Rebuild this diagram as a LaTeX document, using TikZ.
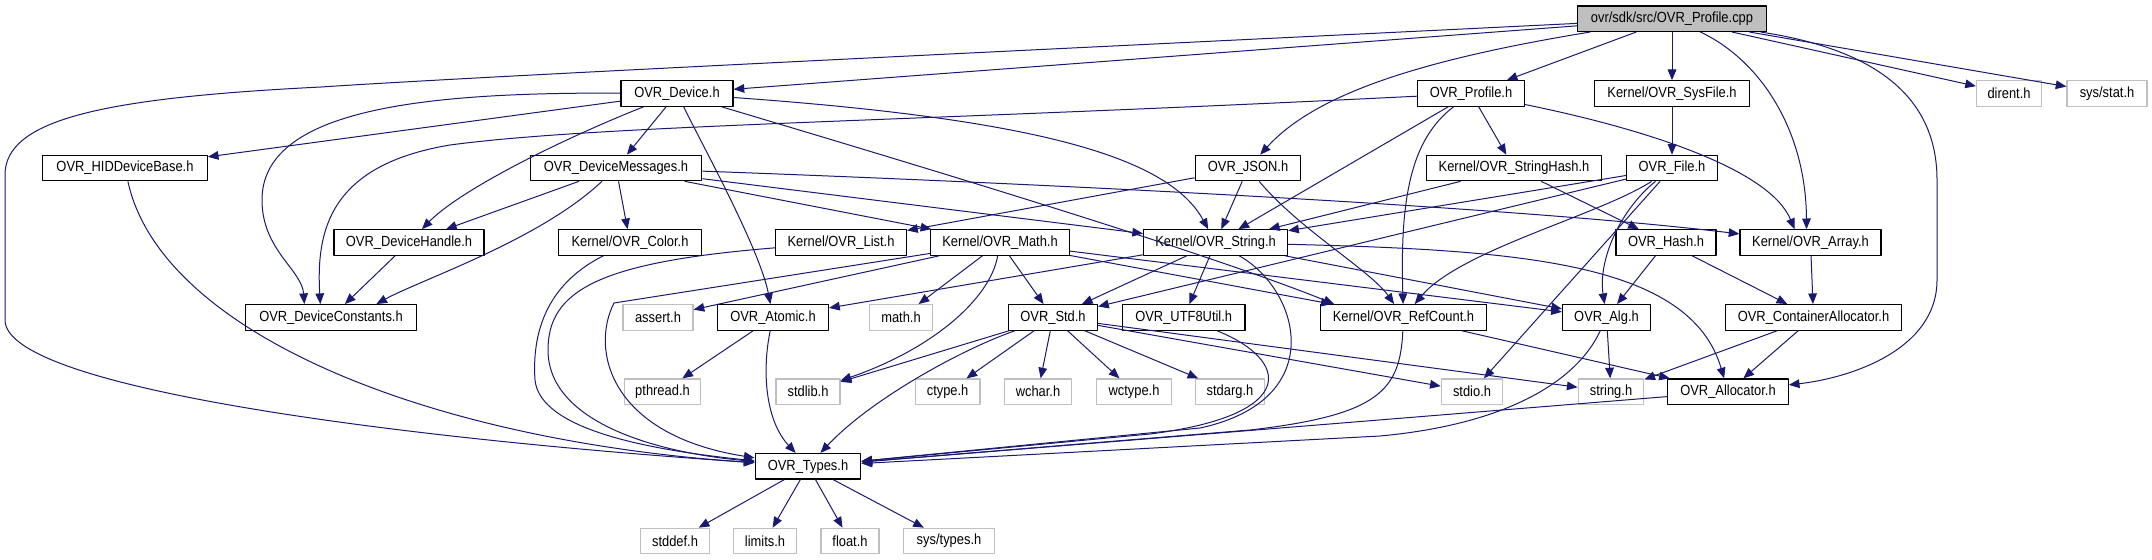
\documentclass[tikz,border=0pt]{standalone}
\usepackage{fontspec}
\setmainfont{Liberation Sans}[FakeStretch=0.88]
\usetikzlibrary{arrows.meta}

\definecolor{edgeblue}{HTML}{191970}
\definecolor{sysgray}{HTML}{BFBFBF}

\begin{document}
\begin{tikzpicture}[
        x=0.75pt,
        y=-0.75pt,
        line join=round,
        hdr/.style={draw=black, line width=0.9pt, fill=white,
            inner xsep=2pt, inner ysep=0pt, minimum height=19.1pt,
            font=\fontsize{11}{13}\selectfont},
        syshdr/.style={hdr, draw=sysgray},
        rootfile/.style={hdr, fill=sysgray},
        boxw/.style={minimum width=#1*0.75pt},
        inc/.style={draw=edgeblue, line width=0.75pt,
            -{Triangle[length=8pt,width=6.5pt]}}
    ]
        \useasboundingbox (0,0) rectangle (2152,560);

        % 根文件
        \node[rootfile, boxw=189] (cpp) at (1672,18.7) {ovr/sdk/src/OVR\_Profile.cpp};

        % 第一层
        \node[hdr, boxw=112]    (dev)     at (677,93.5)  {OVR\_Device.h};
        \node[hdr, boxw=107]    (prof)    at (1471,93.5) {OVR\_Profile.h};
        \node[hdr, boxw=154.5]  (sysfile) at (1672,93.5) {Kernel/OVR\_SysFile.h};
        \node[syshdr, boxw=65]  (dirent)  at (2009,93.5) {dirent.h};
        \node[syshdr, boxw=80]  (stat)    at (2107,93.5) {sys/stat.h};

        % 第二层
        \node[hdr, boxw=164.5] (hid)     at (125,168)  {OVR\_HIDDeviceBase.h};
        \node[hdr, boxw=171.5] (msgs)    at (616,168)  {OVR\_DeviceMessages.h};
        \node[hdr, boxw=105.5] (json)    at (1248,168) {OVR\_JSON.h};
        \node[hdr, boxw=174.5] (strhash) at (1514,168) {Kernel/OVR\_StringHash.h};
        \node[hdr, boxw=90.6]  (file)    at (1672,168) {OVR\_File.h};

        % 第三层
        \node[hdr, boxw=150]   (handle) at (409,242.5)    {OVR\_DeviceHandle.h};
        \node[hdr, boxw=142.5] (color)  at (630,242.5)    {Kernel/OVR\_Color.h};
        \node[hdr, boxw=131]   (list)   at (841,242.5)    {Kernel/OVR\_List.h};
        \node[hdr, boxw=139]   (math)   at (1000,242.5)   {Kernel/OVR\_Math.h};
        \node[hdr, boxw=144]   (string) at (1215.6,242.5) {Kernel/OVR\_String.h};
        \node[hdr, boxw=100]   (hash)   at (1666,242.5)   {OVR\_Hash.h};
        \node[hdr, boxw=141]   (array)  at (1810.5,242.5) {Kernel/OVR\_Array.h};

        % 第四层
        \node[hdr, boxw=170.4]   (const)     at (331,317.4)    {OVR\_DeviceConstants.h};
        \node[syshdr, boxw=70]   (assert)    at (658,317.4)    {assert.h};
        \node[hdr, boxw=111]     (atomic)    at (773,317.4)    {OVR\_Atomic.h};
        \node[syshdr, boxw=62.4] (mathh)     at (901,317.4)    {math.h};
        \node[hdr, boxw=89]      (std)       at (1053,317.4)   {OVR\_Std.h};
        \node[hdr, boxw=122.6]   (utf8)      at (1183.7,317.4) {OVR\_UTF8Util.h};
        \node[hdr, boxw=166.5]   (refcount)  at (1403.5,317.4) {Kernel/OVR\_RefCount.h};
        \node[hdr, boxw=88]      (alg)       at (1606.5,317.4) {OVR\_Alg.h};
        \node[hdr, boxw=175.5]   (contalloc) at (1813.5,317.4) {OVR\_ContainerAllocator.h};

        % 第五层
        \node[syshdr, boxw=76]   (pthread) at (662.5,391.7) {pthread.h};
        \node[syshdr, boxw=64]   (stdlib)  at (808,391.7)   {stdlib.h};
        \node[syshdr, boxw=64.7] (ctype)   at (947.6,391.7) {ctype.h};
        \node[syshdr, boxw=67.5] (wchar)   at (1038,391.7)  {wchar.h};
        \node[syshdr, boxw=74.5] (wctype)  at (1134,391.7)  {wctype.h};
        \node[syshdr, boxw=69]   (stdarg)  at (1230,391.7)  {stdarg.h};
        \node[syshdr, boxw=61.4] (stdio)   at (1472,391.7)  {stdio.h};
        \node[syshdr, boxw=65.6] (stringh) at (1611,391.7)  {string.h};
        \node[hdr, boxw=120.4]   (alloc)   at (1728,391.7)  {OVR\_Allocator.h};

        % 第六、七层
        \node[hdr, boxw=105.7]   (types)    at (808,466.3) {OVR\_Types.h};
        \node[syshdr, boxw=69.4] (stddef)   at (675,541)   {stddef.h};
        \node[syshdr, boxw=63.4] (limits)   at (765,541)   {limits.h};
        \node[syshdr, boxw=58]   (float)    at (850,541)   {float.h};
        \node[syshdr, boxw=90.4] (systypes) at (949,541)   {sys/types.h};

        % OVR_Profile.cpp 的包含关系
        \draw[inc] (cpp) .. controls (1200,42) and (500,75) .. (321,87)
            .. controls (100,98) and (5,120) .. (5,175) -- (5,320)
            .. controls (5,390) and (420,440) .. (types);
        \draw[inc] (cpp) -- (dev);
        \draw[inc] (cpp) .. controls (1400,63) and (1310,100) .. (json);
        \draw[inc] (cpp) -- (prof);
        \draw[inc] (cpp) -- (sysfile);
        \draw[inc] (cpp) .. controls (1760,60) and (1806,130) .. ([xshift=-3pt]array.north);
        \draw[inc] (cpp) .. controls (1880,50) and (1937,100) .. (1937,180) -- (1937,280)
            .. controls (1937,350) and (1850,378) .. (alloc);
        \draw[inc] (cpp) -- (dirent);
        \draw[inc] (cpp) -- (stat);

        % OVR_Device.h
        \draw[inc] (dev) -- (hid);
        \draw[inc] (dev) .. controls (420,92) and (262,110) .. (262,200)
            .. controls (262,250) and (302,270) .. ([xshift=-20pt]const.north);
        \draw[inc] (dev) .. controls (560,140) and (460,190) .. (handle);
        \draw[inc] (dev) -- (msgs);
        \draw[inc] (dev) .. controls (705,150) and (760,250) .. (atomic);
        \draw[inc] (dev) .. controls (900,160) and (1200,250) .. ([xshift=-52pt]refcount.north);
        \draw[inc] (dev) .. controls (1050,120) and (1170,160) .. (string);

        % OVR_HIDDeviceBase.h
        \draw[inc] (hid) .. controls (160,330) and (420,440) .. (types);

        % OVR_DeviceMessages.h
        \draw[inc] (msgs) -- (handle);
        \draw[inc] (msgs) .. controls (540,240) and (420,280) .. ([xshift=34pt]const.north);
        \draw[inc] (msgs) -- (color);
        \draw[inc] (msgs) -- (math);
        \draw[inc] (msgs) -- (string);
        \draw[inc] (msgs) .. controls (1000,182) and (1500,205) .. (array);

        \draw[inc] (handle) -- (const);

        % OVR_Profile.h
        \draw[inc] (prof) .. controls (900,122) and (600,125) .. (450,145)
            .. controls (330,165) and (316,230) .. ([xshift=-8pt]const.north);
        \draw[inc] (prof) -- (string);
        \draw[inc] (prof) .. controls (1410,140) and (1400,200) .. (refcount);
        \draw[inc] (prof) -- (strhash);
        \draw[inc] (prof) .. controls (1650,130) and (1770,170) .. ([xshift=-12pt]array.north);

        % OVR_JSON.h
        \draw[inc] (json) -- (list);
        \draw[inc] (json) -- (string);
        \draw[inc] (json) .. controls (1300,230) and (1370,270) .. (refcount);

        % StringHash, SysFile, File
        \draw[inc] (strhash) -- (string);
        \draw[inc] (strhash) -- (hash);
        \draw[inc] (sysfile) -- (file);
        \draw[inc] (file) -- (string);
        \draw[inc] (file) -- (std);
        \draw[inc] (file) .. controls (1600,215) and (1460,250) .. (refcount);
        \draw[inc] (file) .. controls (1620,210) and (1598,260) .. (alg);
        \draw[inc] (file) -- (stdio);

        % Hash, Array
        \draw[inc] (hash) -- (alg);
        \draw[inc] (hash) -- (contalloc);
        \draw[inc] (array) -- (contalloc);

        % List, Color, Math
        \draw[inc] (list) .. controls (600,262) and (548,290) .. (548,350)
            .. controls (548,420) and (650,452) .. (types);
        \draw[inc] (color) .. controls (545,285) and (532,335) .. (535,380)
            .. controls (540,430) and (650,450) .. (types);
        \draw[inc] (math) -- (614,303) .. controls (590,350) and (610,435) .. (types);
        \draw[inc] (math) -- (assert);
        \draw[inc] (math) -- (mathh);
        \draw[inc] (math) -- (std);
        \draw[inc] (math) .. controls (990,300) and (930,350) .. (stdlib);
        \draw[inc] (math) -- (refcount);
        \draw[inc] (math) -- (alg);

        % OVR_String.h
        \draw[inc] (string) -- (atomic);
        \draw[inc] (string) -- (std);
        \draw[inc] (string) -- (utf8);
        \draw[inc] (string) -- (alg);
        \draw[inc] (string) .. controls (1520,250) and (1690,262) .. (alloc);
        \draw[inc] (string) .. controls (1300,290) and (1330,400) .. (1200,428) -- (types);

        % 第四层以下
        \draw[inc] (utf8) .. controls (1290,360) and (1300,415) .. (1150,434) -- (types);
        \draw[inc] (refcount) .. controls (1400,390) and (1380,415) .. (1250,430) -- (types);
        \draw[inc] (refcount) -- (alloc);
        \draw[inc] (alg) .. controls (1575,385) and (1500,425) .. (1380,436) -- (types);
        \draw[inc] (alg) -- (stringh);
        \draw[inc] (contalloc) -- (stringh);
        \draw[inc] (contalloc) -- (alloc);
        \draw[inc] (alloc) -- (types);
        \draw[inc] (atomic) -- (pthread);
        \draw[inc] (atomic) .. controls (762,370) and (765,420) .. (types);
        \draw[inc] (std) .. controls (960,350) and (870,400) .. (types);
        \draw[inc] (std) -- (stdlib);
        \foreach \h in {ctype,wchar,wctype,stdarg,stdio,stringh}
            \draw[inc] (std) -- (\h);

        % OVR_Types.h
        \foreach \h in {stddef,limits,float,systypes}
            \draw[inc] (types) -- (\h);
    \end{tikzpicture}
\end{document}
